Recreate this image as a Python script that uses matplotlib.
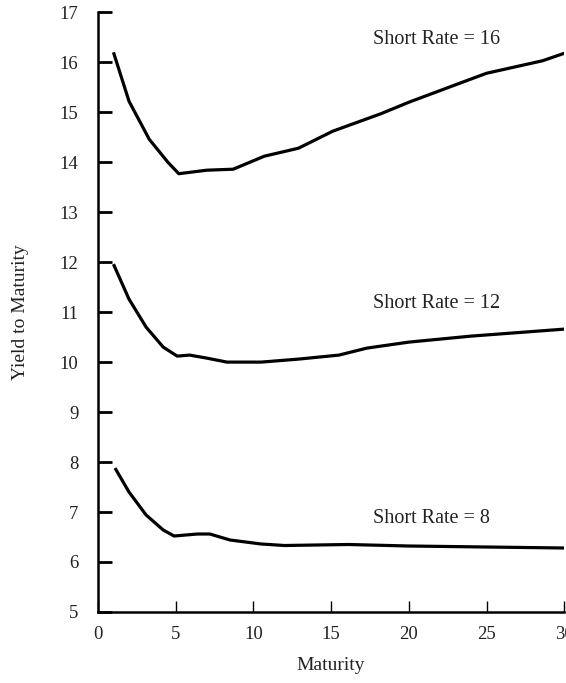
import matplotlib.pyplot as plt

# Yield curves (maturity in years, yield in %)
mat_16 = [1.0, 2.0, 3.3, 4.5, 5.2, 7.0, 8.7, 10.7, 12.9, 15.1, 18.2, 20.0, 23.7, 25.0, 28.6, 30.0]
yld_16 = [16.2, 15.22, 14.46, 14.0, 13.77, 13.84, 13.86, 14.12, 14.28, 14.62, 14.97, 15.2, 15.63, 15.78, 16.03, 16.18]

mat_12 = [1.0, 2.0, 3.1, 4.2, 5.1, 5.9, 7.0, 8.3, 10.5, 12.9, 15.5, 17.3, 20.0, 24.0, 30.0]
yld_12 = [11.96, 11.26, 10.7, 10.3, 10.12, 10.14, 10.08, 10.0, 10.0, 10.06, 10.14, 10.28, 10.4, 10.52, 10.66]

mat_8 = [1.1, 2.0, 3.1, 4.2, 4.9, 6.4, 7.2, 8.5, 10.5, 12.0, 16.1, 20.0, 25.0, 30.0]
yld_8 = [7.88, 7.4, 6.94, 6.64, 6.52, 6.56, 6.56, 6.44, 6.36, 6.33, 6.35, 6.32, 6.3, 6.28]

labels = ['Short Rate = 16', 'Short Rate = 12', 'Short Rate = 8']
label_y = [16.45, 11.18, 6.88]

plt.rcParams['font.family'] = ['Liberation Serif', 'DejaVu Serif']

fig = plt.figure(figsize=(5.66, 6.83), dpi=100)
ax = fig.add_axes([0.173, 0.104, 0.824, 0.878])

for m, y in [(mat_16, yld_16), (mat_12, yld_12), (mat_8, yld_8)]:
    ax.plot(m, y, color='black', linewidth=2.3, solid_capstyle='butt')

for txt, ty in zip(labels, label_y):
    ax.text(17.7, ty, txt, fontsize=14.5, va='center', ha='left', color='#222222')

ax.set_xlim(0, 30)
ax.set_ylim(5, 17)
ax.set_xticks(range(0, 31, 5))
ax.set_yticks(range(5, 18))
ax.spines['top'].set_visible(False)
ax.spines['right'].set_visible(False)
ax.spines['left'].set_linewidth(1.8)
ax.spines['bottom'].set_linewidth(1.8)
ax.tick_params(axis='y', direction='in', length=10, width=2, labelsize=13.5, pad=14, labelcolor='#222222')
ax.tick_params(axis='x', direction='in', length=8, width=1, labelsize=13.5, pad=10, labelcolor='#222222')

ax.set_xlabel('Maturity', fontsize=14, labelpad=10, color='#222222')
ax.set_ylabel('Yield to Maturity', fontsize=14, labelpad=22, color='#222222')

fig.savefig('out.png', dpi=100)
